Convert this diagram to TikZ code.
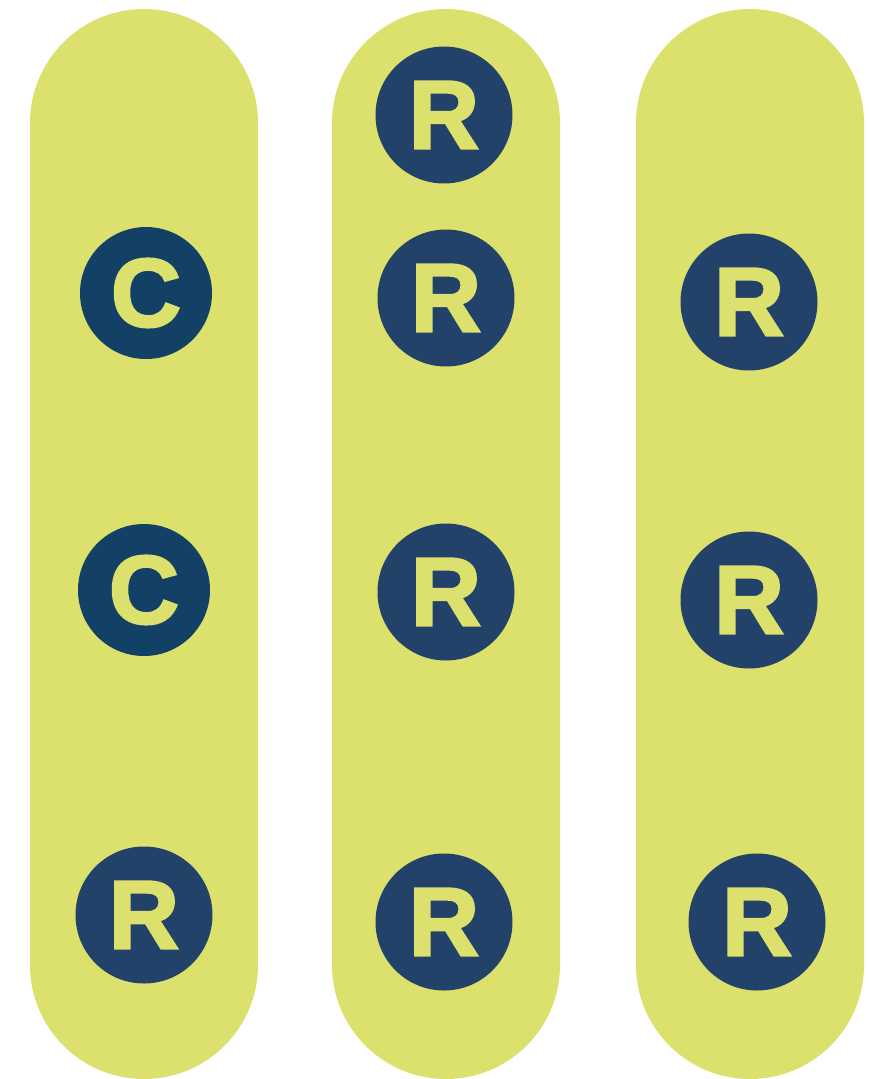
\documentclass[tikz,border=0pt]{standalone}
\usepackage{fontspec}
\newfontfamily\labelfont{Liberation Sans Bold}[FakeBold=2.5]
\definecolor{pill}{HTML}{DCE06C}
\definecolor{rblue}{HTML}{22426A}
\definecolor{cblue}{HTML}{134166}
\tikzset{
  pillbox/.style={fill=pill, draw=none, rounded corners=114pt},
  rdisc/.style={circle, fill=rblue, minimum size=137pt, inner sep=0pt, text=pill, font=\labelfont\fontsize{97}{97}\selectfont},
  cdisc/.style={circle, fill=cblue, minimum size=132pt, inner sep=0pt, text=pill, font=\labelfont\fontsize{97}{97}\selectfont},
}
\begin{document}
\begin{tikzpicture}[x=1pt,y=-1pt]
\useasboundingbox (0,0) rectangle (869,1079);
\fill[pillbox] (30,9) rectangle (258,1079);
\fill[pillbox] (332,9) rectangle (560,1079);
\fill[pillbox] (636,9) rectangle (864,1079);
\node[cdisc] (c1) at (146,293) {C};
\node[cdisc] (c2) at (144,590) {C};
\node[rdisc] (r1) at (144,915) {R};
\node[rdisc] (r2) at (444,115) {R};
\node[rdisc] (r3) at (446,298) {R};
\node[rdisc] (r4) at (446,592) {R};
\node[rdisc] (r5) at (444,922) {R};
\node[rdisc] (r6) at (749,302) {R};
\node[rdisc] (r7) at (749,600) {R};
\node[rdisc] (r8) at (757,922) {R};
\end{tikzpicture}
\end{document}
